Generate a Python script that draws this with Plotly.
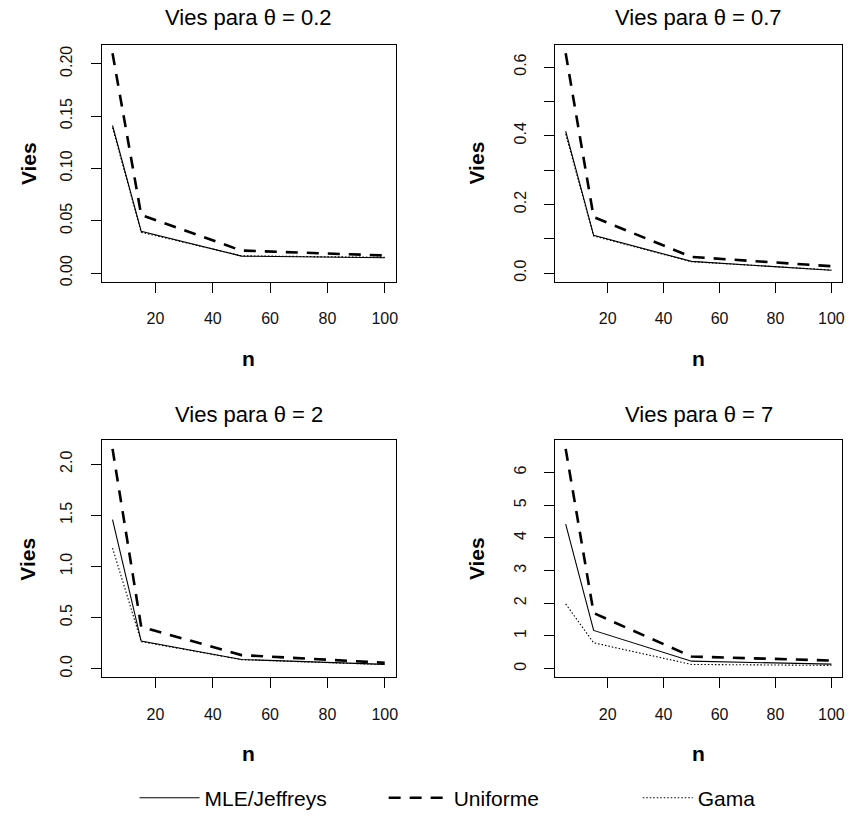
import plotly.graph_objects as go

# ---------------- data ----------------
n = [5, 15, 50, 100]
theta_labels = ["0.2", "0.7", "2", "7"]

mle_02 = [0.141, 0.040, 0.0162, 0.0146]
unif_02 = [0.210, 0.0555, 0.0215, 0.0168]
gama_02 = [0.139, 0.039, 0.0165, 0.0150]

mle_07 = [0.413, 0.110, 0.034, 0.008]
unif_07 = [0.640, 0.163, 0.047, 0.020]
gama_07 = [0.405, 0.108, 0.033, 0.009]

mle_2 = [1.457, 0.270, 0.090, 0.042]
unif_2 = [2.150, 0.410, 0.133, 0.058]
gama_2 = [1.180, 0.265, 0.088, 0.040]

mle_7 = [4.42, 1.17, 0.23, 0.14]
unif_7 = [6.72, 1.70, 0.37, 0.25]
gama_7 = [1.98, 0.79, 0.13, 0.10]

x_ticks = [20, 40, 60, 80, 100]
y_ticks = [
    [0, 0.05, 0.10, 0.15, 0.20],
    [0, 0.1, 0.2, 0.3, 0.4, 0.5, 0.6],
    [0, 0.5, 1.0, 1.5, 2.0],
    [0, 1, 2, 3, 4, 5, 6],
]
y_ticktext = [
    ["0.00", "0.05", "0.10", "0.15", "0.20"],
    ["0.0", "", "0.2", "", "0.4", "", "0.6"],
    ["0.0", "0.5", "1.0", "1.5", "2.0"],
    ["0", "1", "2", "3", "4", "5", "6"],
]
series_names = ["MLE/Jeffreys", "Uniforme", "Gama"]
panels = [
    (mle_02, unif_02, gama_02),
    (mle_07, unif_07, gama_07),
    (mle_2, unif_2, gama_2),
    (mle_7, unif_7, gama_7),
]

# ---------------- layout geometry ----------------
W, H = 856, 819
FONT = "Liberation Sans, Arial, sans-serif"
xdoms = [[102 / W, 397 / W], [557 / W, 845 / W]]
ydoms = [[1 - 285 / H, 1 - 45 / H], [1 - 685 / H, 1 - 445 / H]]  # top row, bottom row
title_y = [1 - 18 / H, 1 - 419 / H]
nlab_y = [1 - 362 / H, 1 - 762 / H]
vies_x = [28 / W, 478 / W]

styles = [
    dict(color="black", width=1.1, dash="solid"),
    dict(color="black", width=2.6, dash="12px,9px"),
    dict(color="black", width=1.1, dash="1.5px,2px"),
]
legend_ids = ["legend", "legend2", "legend3"]
legend_x = [135, 385, 640]
legend_iw = [60, 60, 50]

fig = go.Figure()
annotations = []
xmin, xmax = min(n), max(n)
dx = 0.04 * (xmax - xmin)

for i, series in enumerate(panels):
    row, col = i // 2, i % 2
    k = "" if i == 0 else str(i + 1)
    for j, (name, ys) in enumerate(zip(series_names, series)):
        fig.add_trace(go.Scatter(
            x=n, y=ys, mode="lines", name=name, line=styles[j],
            xaxis="x" + k, yaxis="y" + k, showlegend=(i == 0),
            legend=legend_ids[j],
        ))
    ymax = max(max(s) for s in series)
    dy = 0.04 * ymax
    axis_common = dict(
        showline=True, mirror=True, linecolor="black", linewidth=1,
        ticks="outside", ticklen=10, tickcolor="black", tickwidth=1,
        showgrid=False, zeroline=False,
        tickfont=dict(family=FONT, size=16, color="#111"),
        ticklabelstandoff=12,
    )
    fig.layout["xaxis" + k] = dict(
        domain=xdoms[col], anchor="y" + k, range=[xmin - dx, xmax + dx],
        tickmode="array", tickvals=x_ticks, ticktext=[str(v) for v in x_ticks],
        **axis_common,
    )
    fig.layout["yaxis" + k] = dict(
        domain=ydoms[row], anchor="x" + k, range=[-dy, ymax + dy],
        tickmode="array", tickvals=y_ticks[i], ticktext=y_ticktext[i],
        tickangle=-90, **axis_common,
    )
    xc = (xdoms[col][0] + xdoms[col][1]) / 2
    annotations.append(dict(
        text="Vies para θ = " + theta_labels[i], x=xc, y=title_y[row],
        xref="paper", yref="paper", showarrow=False,
        font=dict(family=FONT, size=22, color="black"),
        xanchor="center", yanchor="middle",
    ))
    annotations.append(dict(
        text="<b>n</b>", x=xc, y=nlab_y[row], xref="paper", yref="paper",
        showarrow=False, font=dict(family=FONT, size=21, color="black"),
        xanchor="center", yanchor="middle",
    ))
    yc = (ydoms[row][0] + ydoms[row][1]) / 2
    annotations.append(dict(
        text="<b>Vies</b>", x=vies_x[col], y=yc, xref="paper", yref="paper",
        showarrow=False, textangle=-90,
        font=dict(family=FONT, size=21, color="black"),
        xanchor="center", yanchor="middle",
    ))

legend_layout = {}
for lid, lx, iw in zip(legend_ids, legend_x, legend_iw):
    legend_layout[lid] = dict(
        orientation="h", x=lx / W, xanchor="left",
        y=1 - 807 / H, yanchor="middle",
        font=dict(family=FONT, size=21, color="black"),
        itemwidth=iw, bgcolor="rgba(0,0,0,0)",
    )

fig.update_layout(
    width=W, height=H,
    margin=dict(l=0, r=0, t=0, b=0),
    paper_bgcolor="white", plot_bgcolor="white",
    annotations=annotations,
    showlegend=True,
    **legend_layout,
)

fig.write_html("out.html")
